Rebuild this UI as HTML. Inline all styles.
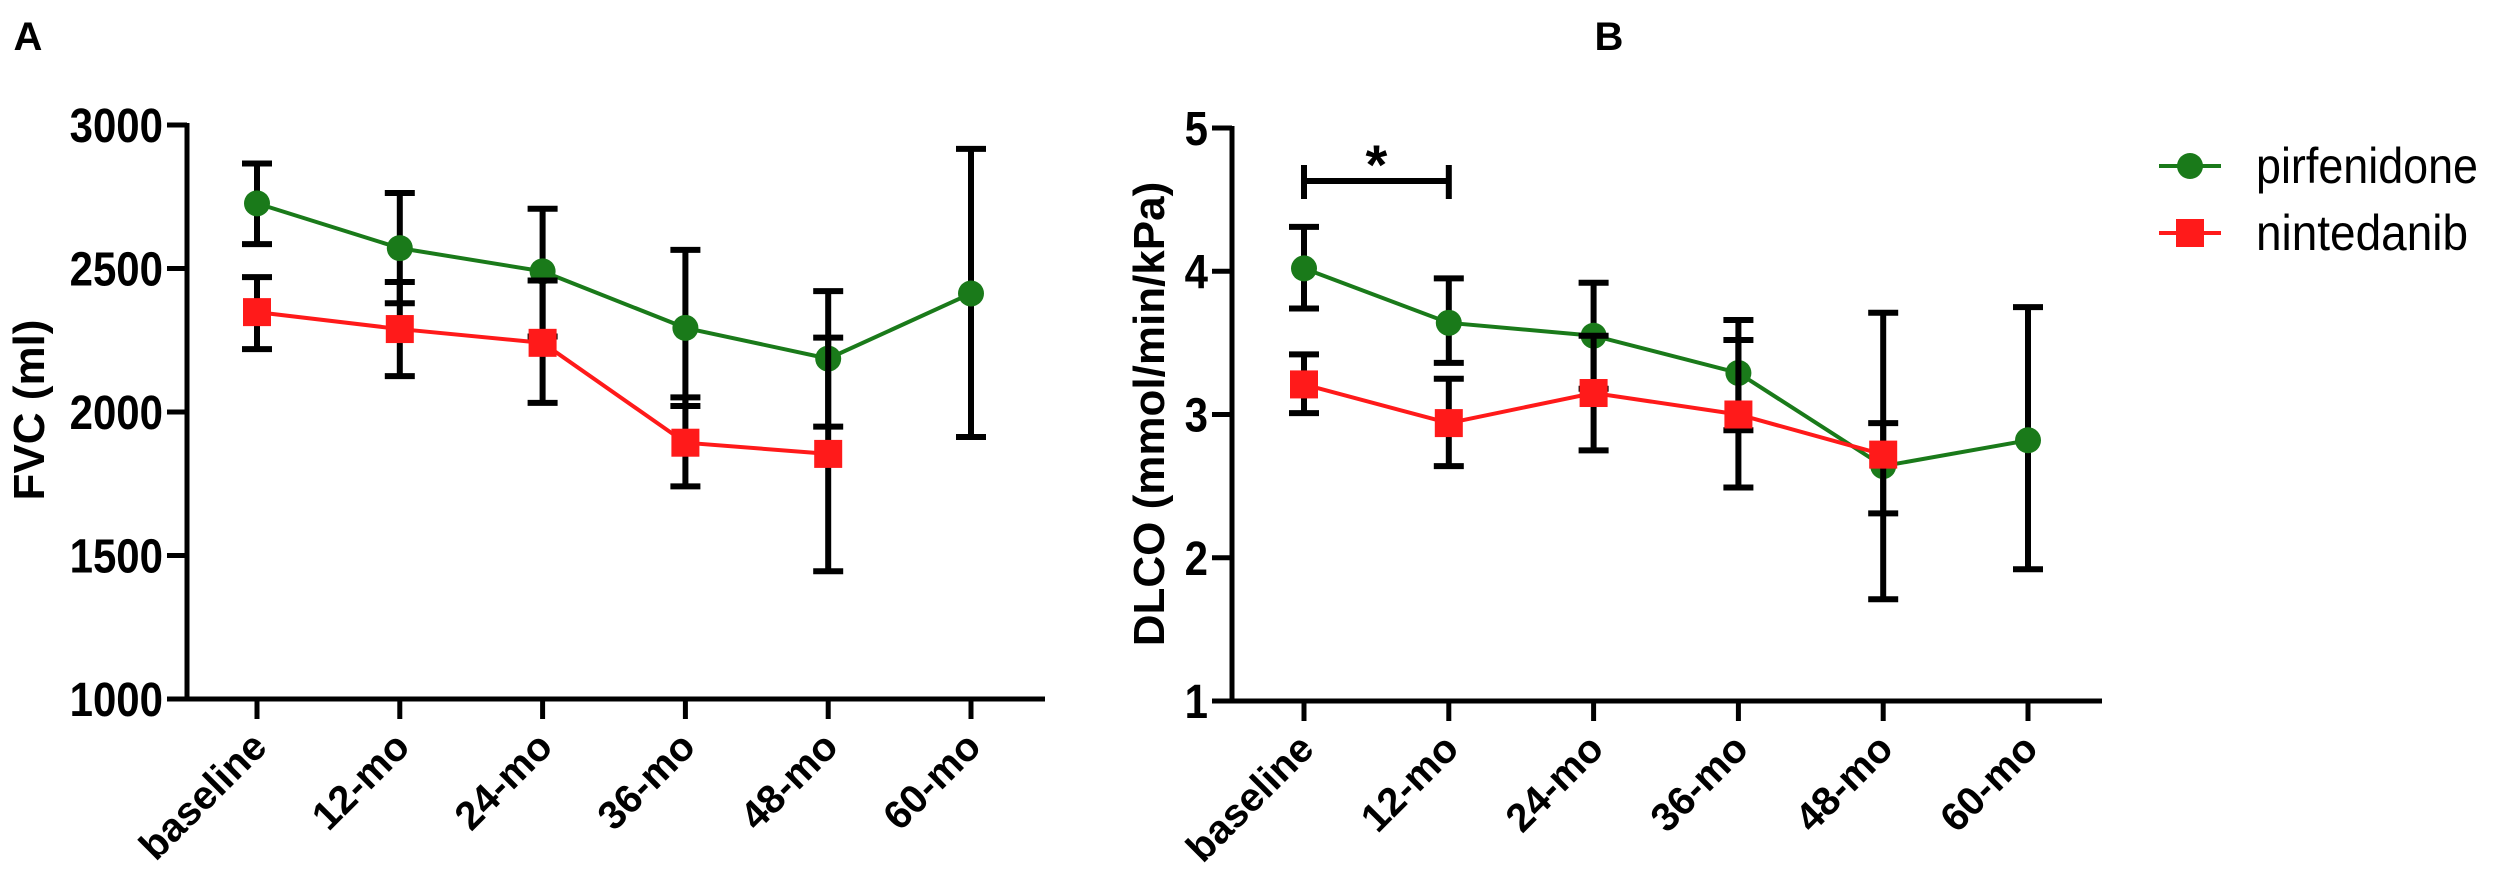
<!DOCTYPE html>
<html><head><meta charset="utf-8"><style>
html,body{margin:0;padding:0;background:#fff;}
svg{display:block;font-family:"Liberation Sans",Arial,sans-serif;}
</style></head><body>
<svg id="chart" width="2500" height="890" viewBox="0 0 2500 890">
<text x="28" y="50" font-size="40" font-weight="bold" text-anchor="middle">A</text>
<text x="1609" y="50" font-size="40" font-weight="bold" text-anchor="middle">B</text>
<g id="pa"></g>
<g id="pb"></g>
<g>
 <g>
  <line x1="2159" y1="166" x2="2221" y2="166" stroke="#1a7a1a" stroke-width="4"/>
  <circle cx="2190" cy="166" r="13" fill="#1a7a1a"/>
  <text x="2256" y="183" font-size="50" textLength="222" lengthAdjust="spacingAndGlyphs">pirfenidone</text>
 </g>
 <g>
  <line x1="2159" y1="233" x2="2221" y2="233" stroke="#ff1a1a" stroke-width="4"/>
  <rect x="2176" y="219" width="28" height="28" fill="#ff1a1a"/>
  <text x="2256" y="250" font-size="50" textLength="212" lengthAdjust="spacingAndGlyphs">nintedanib</text>
 </g>
</g>
</svg>
<script>
const categories = ["baseline","12-mo","24-mo","36-mo","48-mo","60-mo"];
const fvcTicks = [1000,1500,2000,2500,3000];
const fvcPirf = [2727,2571,2490,2293,2186,2413];
const fvcPirfHi = [2866,2763,2708,2565,2421,2917];
const fvcPirfLo = [2585,2379,2263,2021,1949,1913];
const fvcNint = [2348,2289,2241,1893,1854];
const fvcNintHi = [2470,2453,2458,2051,2259];
const fvcNintLo = [2219,2125,2032,1741,1445];
const dlcoTicks = [1,2,3,4,5];
const dlcoPirf = [4.02,3.64,3.55,3.29,2.64,2.82];
const dlcoPirfHi = [4.31,3.95,3.92,3.66,3.71,3.75];
const dlcoPirfLo = [3.74,3.36,3.18,2.89,1.71,1.92];
const dlcoNint = [3.21,2.94,3.15,3.00,2.72];
const dlcoNintHi = [3.42,3.25,3.55,3.52,2.94];
const dlcoNintLo = [3.01,2.64,2.75,2.49,2.31];

const NS="http://www.w3.org/2000/svg";
function mk(parent,tag,attrs){const e=document.createElementNS(NS,tag);for(const k in attrs)e.setAttribute(k,attrs[k]);parent.appendChild(e);return e;}

function panel(g,cfg){
  const yS=v=>cfg.y0+(v-cfg.vmin)/(cfg.vmax-cfg.vmin)*(cfg.y1-cfg.y0);
  const xS=i=>cfg.x0+i*cfg.dx;
  const ya=mk(g,'line',{x1:cfg.ax,y1:yS(cfg.vmax)-2,x2:cfg.ax,y2:cfg.y0+2,stroke:'#000','stroke-width':5});
  
  
  const xa=mk(g,'line',{x1:cfg.ax-2,y1:cfg.y0,x2:cfg.axEnd,y2:cfg.y0,stroke:'#000','stroke-width':5});
  
  
  cfg.ticks.forEach(t=>{
    const y=yS(t);
    const tl=mk(g,'line',{x1:cfg.ax-20,y1:y,x2:cfg.ax,y2:y,stroke:'#000','stroke-width':5});
    
    
    const tx=mk(g,'text',{x:0,y:0,'font-size':40,'font-weight':'bold','text-anchor':'end',transform:`translate(${cfg.ax-24},${y+17}) scale(1.05,1.2)`});
    tx.textContent=t;
    
    
  });
  categories.forEach((c,i)=>{
    const x=xS(i);
    const tl=mk(g,'line',{x1:x,y1:cfg.y0,x2:x,y2:cfg.y0+20,stroke:'#000','stroke-width':5});
    
    
    const tx=mk(g,'text',{x:0,y:0,'font-size':40,'font-weight':'bold','text-anchor':'end',transform:`translate(${x+12},${cfg.y0+50}) rotate(-45)`});
    tx.textContent=c;
    
    
  });
  const tt=mk(g,'text',{x:0,y:0,'font-size':44,'font-weight':'bold','text-anchor':'middle',transform:`translate(${cfg.titleX},${cfg.titleY}) rotate(-90)`});
  tt.textContent=cfg.title;
  
  
  function series(vals,hi,lo,color,shape,name){
    const sg=mk(g,'g',{});
    
    
    vals.forEach((v,i)=>{
      const x=xS(i);
      const eb=mk(sg,'path',{d:`M${x},${yS(hi[i])}V${yS(lo[i])}M${x-15},${yS(hi[i])}H${x+15}M${x-15},${yS(lo[i])}H${x+15}`,stroke:'#000','stroke-width':6,fill:'none'});
      
      
    });
    const pts=vals.map((v,i)=>xS(i)+','+yS(v)).join(' ');
    const pl=mk(sg,'polyline',{points:pts,stroke:color,'stroke-width':4,fill:'none'});
    
    
    vals.forEach((v,i)=>{
      let m;
      if(shape==='c') m=mk(sg,'circle',{cx:xS(i),cy:yS(v),r:13,fill:color});
      else m=mk(sg,'rect',{x:xS(i)-14,y:yS(v)-14,width:28,height:28,fill:color});
      
      
    });
  }
  series(cfg.p,cfg.ph,cfg.pl,'#1a7a1a','c','pirfenidone');
  series(cfg.n,cfg.nh,cfg.nl,'#ff1a1a','s','nintedanib');
  return {xS,yS};
}
const A=panel(document.getElementById('pa'),{ax:187,axEnd:1045,y0:699,y1:125,vmin:1000,vmax:3000,x0:257,dx:142.8,ticks:fvcTicks,title:'FVC (ml)',titleX:44,titleY:410,
  p:fvcPirf,ph:fvcPirfHi,pl:fvcPirfLo,n:fvcNint,nh:fvcNintHi,nl:fvcNintLo});
const B=panel(document.getElementById('pb'),{ax:1232,axEnd:2102,y0:701,y1:128,vmin:1,vmax:5,x0:1304,dx:144.8,ticks:dlcoTicks,title:'DLCO (mmol/min/kPa)',titleX:1164,titleY:414,
  p:dlcoPirf,ph:dlcoPirfHi,pl:dlcoPirfLo,n:dlcoNint,nh:dlcoNintHi,nl:dlcoNintLo});
const pb=document.getElementById('pb');
const x1=B.xS(0),x2=B.xS(1);
const br=mk(pb,'path',{d:`M${x1},165V199M${x1},181H${x2}M${x2},165V199`,stroke:'#000','stroke-width':6,fill:'none'});


const st=mk(pb,'text',{x:(x1+x2)/2,y:184,'font-size':56,'font-weight':'bold','text-anchor':'middle'});
st.textContent='*';


</script>
</body></html>
